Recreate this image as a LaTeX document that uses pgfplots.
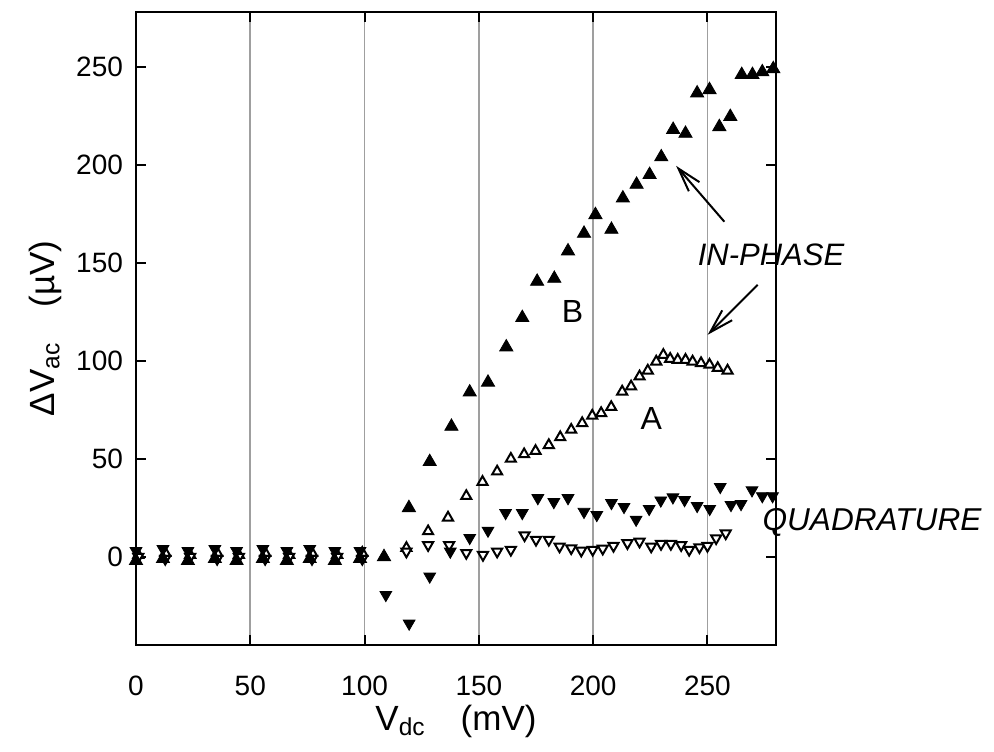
\documentclass[border=0pt]{standalone}
\usepackage{fontspec}
\setmainfont{Liberation Sans}
\usepackage{pgfplots}
\usepackage{pgfplotstable}
\pgfplotsset{compat=1.18}
\usetikzlibrary{arrows.meta}

\pgfplotstableread{
x y
0 -2
11.8 -1
22.7 -2
34.5 -1
44 -2
55.5 -1
66 -2
76 -1
87 -2
98 -1
108.5 0
119.4 25
128.5 48.5
138 66.5
146 84
154 89
162 107
169 122
175.5 140.5
183 142
189 156
196 165
201 174.5
208 167
213 183
219 190
224.7 195
229.8 204
235 218
240.4 216
245.5 236.6
250.9 238.3
255.2 219.4
260 224.6
265 246
269.7 246
274 247.4
278.8 249
}\Bup

\pgfplotstableread{
x y
0 3
11.8 4
22.7 3
34.5 4
44 3
55.5 4
66 3
76 4
87 3
98 3
109.3 -19.4
119.5 -34
128.5 -10
137.5 2.7
146 9.7
154 13.4
161.7 22.4
169 22.4
175.8 30
182.8 28
189 30
196 23
201.6 21.4
208 27.5
213.5 25.5
218.8 19
224.5 24.5
229.6 28.8
234.9 30.4
240 29
245.5 26
251 24.5
255.6 35.7
260.3 26.5
264.7 27
269.5 34
274 31
278.5 31
}\Bdown

\pgfplotstableread{
x y
1 1
12.8 2
23.7 1
35.5 2
45 1
56.5 2
67 1
77 2
88 1
99 2
118.3 4.5
127.8 13
136.5 20
144.5 31
151.6 38.2
158 43.5
164 50
169.8 52.3
174.8 54
180.6 57
185.6 61
190.4 64.8
195.2 68.2
199.6 72
203.5 73.3
207.9 76.4
212.7 84.3
216.6 86.9
220.3 92
223.9 95
227.6 99.6
230.7 103
233.7 101
237 100.5
240.4 100.5
243.5 99.6
247.2 98.8
250.9 98
254.5 96.3
258.8 95
}\Aup

\pgfplotstableread{
x y
1 0
12.8 -1
23.7 0
35.5 -1
45 0
56.5 -1
67 0
77 -1
88 0
99 -1
118.3 2.7
127.8 6
137 6
144.5 2
151.8 1
158 2.7
164 3.6
170 11
175 8.7
180.6 8.7
185.3 5.3
190.4 4.4
194.8 3.2
199.8 3.6
204.2 4.2
208.9 5.6
215 7
220.3 7.8
225.4 5.3
229.7 6.6
234 6.6
238.5 6
242 3.6
246.5 4.9
250 5.6
253.8 9.5
258 12
}\Adown

\begin{document}
\begin{tikzpicture}
\begin{axis}[
  scale only axis,
  width=320pt, height=316.5pt,
  xmin=0, xmax=280, ymin=-45, ymax=278,
  xtick={0,50,100,150,200,250},
  ytick={0,50,100,150,200,250},
  xmajorgrids,
  major x grid style={draw=gray!75, line width=0.9pt},
  tick align=inside,
  major tick length=5pt,
  tick style={black, line width=1pt},
  axis line style={line width=1pt},
  clip=false,
  /pgf/number format/assume math mode=true,
  ticklabel style={font=\fontsize{14}{16}\selectfont},
  xticklabel shift=12pt,
  yticklabel shift=3pt,
  xlabel={V\textsubscript{dc}\quad(mV)},
  ylabel={ΔV\textsubscript{ac}\quad(µV)},
  xlabel style={font=\fontsize{17.5}{20}\selectfont, at={(axis description cs:0.5,0)}, anchor=center, yshift=-38pt},
  ylabel style={font=\fontsize{17.5}{20}\selectfont, at={(axis description cs:-0.142,0.5)}, anchor=center},
]
\addplot[only marks, mark=triangle*, mark size=2.9pt, mark options={draw=black, fill=white, line width=1pt}] table {\Aup};
\addplot[only marks, mark=triangle*, mark size=2.9pt, mark options={draw=black, fill=white, line width=1pt, rotate=180}] table {\Adown};
\addplot[only marks, mark=triangle*, mark size=3.4pt, mark options={draw=black, fill=black, rotate=180}] table {\Bdown};
\addplot[only marks, mark=triangle*, mark size=3.8pt, mark options={draw=black, fill=black}] table {\Bup};

\node[font=\fontsize{16}{18}\selectfont] at (axis cs:191,125) {B};
\node[font=\fontsize{16}{18}\selectfont] at (axis cs:225.4,70.8) {A};
\node[font=\fontsize{15.5}{18}\selectfont\itshape] at (axis cs:277.8,154) {IN-PHASE};
\node[font=\fontsize{15.8}{18}\selectfont\itshape] at (axis cs:322,17.3) {QUADRATURE};
\draw[line width=1pt, -{Straight Barb[length=12pt,width=7pt]}] (axis cs:257.4,171) -- (axis cs:236.3,199.5);
\draw[line width=1pt, -{Straight Barb[length=12pt,width=7pt]}] (axis cs:272,138.8) -- (axis cs:250.1,113.3);
\end{axis}
\path ([shift={(-68pt,-53pt)}]current axis.south west) rectangle ([shift={(109pt,6pt)}]current axis.north east);
\end{tikzpicture}
\end{document}
